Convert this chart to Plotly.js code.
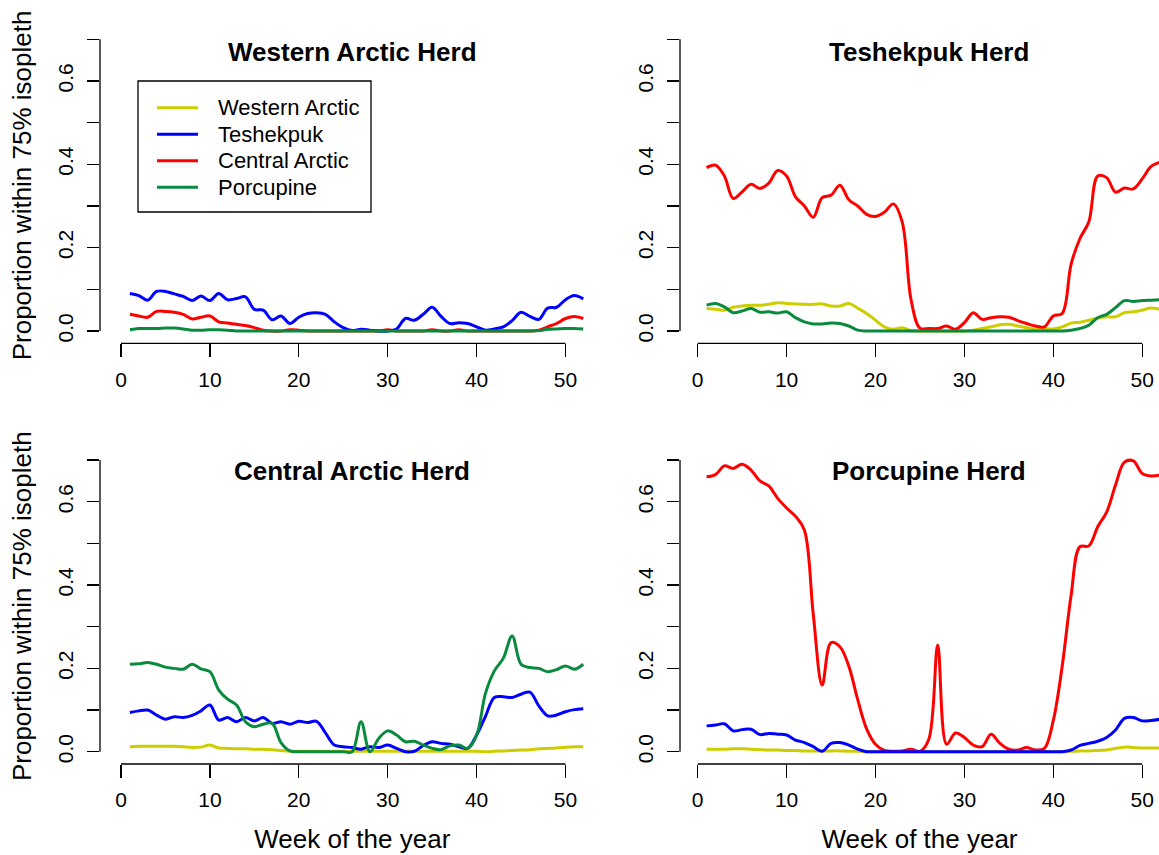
<!DOCTYPE html>
<html>
<head>
<meta charset="utf-8">
<script src="https://cdn.plot.ly/plotly-3.0.1.min.js"></script>
<style>html,body{margin:0;padding:0;background:#fff}#chart{width:1159px;height:855px}</style>
</head>
<body>
<div id="chart"></div>
<script>
// ---------- data ----------
const weeks = [1,2,3,4,5,6,7,8,9,10,11,12,13,14,15,16,17,18,19,20,21,22,23,24,25,26,27,28,29,30,31,32,33,34,35,36,37,38,39,40,41,42,43,44,45,46,47,48,49,50,51,52];
const herdNames = ['Western Arctic', 'Teshekpuk', 'Central Arctic', 'Porcupine'];
const panelTitles = ['Western Arctic Herd', 'Teshekpuk Herd', 'Central Arctic Herd', 'Porcupine Herd'];
const xTickVals = [0, 10, 20, 30, 40, 50];
const yTickVals = [0, 0.1, 0.2, 0.3, 0.4, 0.5, 0.6, 0.7];
const yTickText = ['0.0', '', '0.2', '', '0.4', '', '0.6', ''];
const yLabel = 'Proportion within 75% isopleth';
const xLabel = 'Week of the year';

// Western Arctic Herd panel
const waTeshekpuk = [0.090,0.085,0.074,0.095,0.095,0.089,0.083,0.073,0.084,0.073, 0.090,0.075,0.078,0.082,0.052,0.050,0.027,0.036,0.018,0.033, 0.042,0.044,0.040,0.022,0.008,0.001,0.004,0.002,0,0, 0.005,0.030,0.026,0.040,0.057,0.035,0.018,0.020,0.018,0.010, 0.002,0.005,0.010,0.025,0.045,0.035,0.028,0.055,0.057,0.075, 0.085,0.077];
const waCentral = [0.040,0.036,0.033,0.047,0.047,0.045,0.040,0.029,0.033,0.036, 0.022,0.019,0.016,0.013,0.008,0.002,0,0,0.003,0.002, 0,0,0,0,0,0,0,0,0,0.003, 0,0,0,0,0.003,0,0,0.003,0,0, 0,0,0,0,0,0,0.002,0.010,0.018,0.030, 0.035,0.030];
const waPorcupine = [0.003,0.006,0.006,0.006,0.007,0.007,0.005,0.002,0.002,0.003, 0.003,0.002,0,0,0,0,0,0,0,0, 0,0,0,0,0,0,0,0,0,0, 0,0,0,0,0,0,0,0,0,0, 0,0,0,0,0,0,0.001,0.004,0.005,0.006, 0.006,0.005];

// Teshekpuk Herd panel
const tpWestern = [0.054,0.052,0.050,0.057,0.060,0.062,0.062,0.064,0.068,0.066, 0.065,0.064,0.064,0.065,0.060,0.060,0.066,0.055,0.042,0.026, 0.010,0.004,0.008,0.001,0,0,0,0,0,0, 0.002,0.006,0.010,0.015,0.016,0.012,0.008,0.005,0.005,0.005, 0.010,0.019,0.021,0.026,0.031,0.034,0.034,0.044,0.046,0.050, 0.055,0.052];
const tpCentral = [0.392,0.398,0.372,0.318,0.334,0.352,0.342,0.355,0.385,0.372, 0.322,0.300,0.273,0.320,0.326,0.350,0.315,0.300,0.280,0.275, 0.285,0.305,0.262,0.075,0.007,0.006,0.006,0.012,0.004,0.020, 0.044,0.028,0.032,0.034,0.033,0.025,0.018,0.012,0.010,0.036, 0.042,0.160,0.222,0.262,0.372,0.368,0.333,0.343,0.341,0.365, 0.395,0.405];
const tpPorcupine = [0.062,0.066,0.058,0.044,0.048,0.054,0.045,0.046,0.043,0.046, 0.032,0.022,0.017,0.017,0.019,0.018,0.012,0.002,0,0, 0,0,0,0,0,0,0,0,0,0, 0,0,0,0,0,0,0,0,0,0, 0,0.002,0.006,0.014,0.032,0.040,0.056,0.073,0.071,0.073, 0.074,0.075];

// Central Arctic Herd panel
const caWestern = [0.012,0.013,0.013,0.013,0.013,0.013,0.012,0.010,0.011,0.016, 0.009,0.008,0.007,0.007,0.006,0.006,0.005,0.003,0.001,0.001, 0.001,0.001,0.001,0.001,0.001,0.001,0.001,0.001,0.001,0.001, 0.001,0.001,0.001,0.001,0.001,0.001,0.001,0.001,0.001,0.001, 0,0.001,0.002,0.003,0.004,0.005,0.007,0.008,0.009,0.011, 0.012,0.012];
const caTeshekpuk = [0.094,0.098,0.100,0.088,0.078,0.084,0.082,0.087,0.098,0.112, 0.076,0.082,0.072,0.082,0.074,0.082,0.068,0.072,0.066,0.073, 0.070,0.073,0.045,0.016,0.012,0.010,0.006,0.012,0.010,0.016, 0.008,0,0.001,0.015,0.024,0.020,0.018,0.012,0.008,0.040, 0.085,0.130,0.132,0.130,0.138,0.143,0.110,0.086,0.088,0.096, 0.101,0.103];
const caPorcupine = [0.210,0.211,0.214,0.210,0.203,0.200,0.198,0.210,0.199,0.192, 0.148,0.126,0.112,0.072,0.060,0.066,0.068,0.022,0.002,0, 0,0,0,0,0,0,0.072,0,0.032,0.050, 0.040,0.024,0.025,0.016,0.008,0.005,0.014,0.016,0.008,0.039, 0.140,0.194,0.224,0.278,0.210,0.202,0.200,0.192,0.197,0.206, 0.198,0.210];

// Porcupine Herd panel
const pcWestern = [0.006,0.006,0.006,0.007,0.007,0.006,0.005,0.004,0.004,0.003, 0.003,0.002,0.002,0.002,0.002,0.002,0.001,0.001,0,0, 0,0,0,0,0,0,0,0,0,0, 0,0,0,0,0,0,0,0,0,0, 0,0.001,0.002,0.002,0.003,0.004,0.008,0.011,0.010,0.009, 0.009,0.009];
const pcTeshekpuk = [0.062,0.064,0.067,0.050,0.053,0.054,0.041,0.044,0.042,0.040, 0.028,0.022,0.012,0.001,0.020,0.022,0.016,0.006,0,0, 0,0,0,0,0,0,0,0,0,0, 0,0,0,0,0,0,0,0,0,0, 0,0.004,0.015,0.020,0.025,0.034,0.052,0.080,0.082,0.074, 0.075,0.078];
const pcCentral = [0.660,0.665,0.686,0.680,0.690,0.676,0.650,0.638,0.608,0.585, 0.565,0.532,0.330,0.160,0.262,0.252,0.205,0.125,0.055,0.018, 0.003,0.001,0.002,0.006,0.001,0.030,0.256,0.018,0.045,0.034, 0.016,0.012,0.042,0.020,0.006,0.004,0.010,0.004,0.008,0.075, 0.205,0.375,0.492,0.494,0.540,0.575,0.640,0.695,0.698,0.668, 0.662,0.664];

// ---------- styling ----------
const herdColors = ['#CDCD00', '#0000FF', '#FF0000', '#0A8A3E'];
const FONT = 'Liberation Sans, Arial, Helvetica, sans-serif';
const W = 1159, H = 855;
const fx = p => p / W;
const fy = p => 1 - p / H;

// panels: [herdIndex, values] in drawing order
const panels = [
  [[2, waCentral], [1, waTeshekpuk], [3, waPorcupine]],
  [[0, tpWestern], [2, tpCentral], [3, tpPorcupine]],
  [[0, caWestern], [1, caTeshekpuk], [3, caPorcupine]],
  [[0, pcWestern], [2, pcCentral], [1, pcTeshekpuk]]
];
const axisIds = [['x', 'y'], ['x2', 'y2'], ['x3', 'y3'], ['x4', 'y4']];

const traces = [];
panels.forEach((series, i) => {
  series.forEach(([h, vals]) => {
    traces.push({
      type: 'scatter', mode: 'lines', x: weeks, y: vals,
      xaxis: axisIds[i][0], yaxis: axisIds[i][1],
      name: herdNames[h], showlegend: false, hoverinfo: 'skip',
      line: {color: herdColors[h], width: 3, shape: 'spline', smoothing: 1}
    });
  });
});

const tickFont = {family: FONT, size: 21, color: '#000'};
const titleFont = {family: FONT, size: 26, color: '#000'};

function xAxis(domain, range, anchor, withTitle) {
  const a = {
    domain: domain, range: range, anchor: anchor, tickmode: 'array', tickvals: xTickVals,
    ticks: 'outside', ticklen: 13, tickwidth: 1.3, tickcolor: '#000',
    showgrid: false, zeroline: false, showline: false, tickfont: tickFont,
    ticklabelstandoff: 4, fixedrange: true
  };
  if (withTitle) a.title = {text: xLabel, font: titleFont, standoff: 19};
  return a;
}
function yAxis(domain, anchor, withTitle) {
  const a = {
    domain: domain, range: [-0.0295, 0.728], anchor: anchor, tickmode: 'array',
    tickvals: yTickVals, ticktext: yTickText, tickangle: -90,
    ticks: 'outside', ticklen: 12, tickwidth: 1.3, tickcolor: '#000',
    showgrid: false, zeroline: false, showline: false, tickfont: tickFont,
    ticklabelstandoff: 6, fixedrange: true
  };
  if (withTitle) a.title = {text: yLabel, font: titleFont, standoff: 14};
  return a;
}

const leftX = [fx(100), fx(604.6)], rightX = [fx(680), 1];
const leftRange = [-2.36, 54.4], rightRange = [-1.99, 51.89];
const topY = [fy(343.3), fy(27.6)], botY = [fy(764), fy(448.4)];

// R-style axis lines (from first to last tick)
const shapes = [];
axisIds.forEach(([xa, ya]) => {
  shapes.push({type: 'line', xref: xa, yref: ya + ' domain', x0: xTickVals[0], x1: xTickVals[xTickVals.length - 1], y0: 0, y1: 0, line: {color: '#000', width: 1.3}});
  shapes.push({type: 'line', xref: xa + ' domain', yref: ya, x0: 0, x1: 0, y0: yTickVals[0], y1: yTickVals[yTickVals.length - 1], line: {color: '#000', width: 1.3}});
});

// legend box (top-left panel)
const legBox = {x0: 138, x1: 371, y0: 81, y1: 212};
shapes.push({type: 'rect', xref: 'paper', yref: 'paper', x0: fx(legBox.x0), x1: fx(legBox.x1), y0: fy(legBox.y1), y1: fy(legBox.y0), line: {color: '#000', width: 1.3}, fillcolor: 'rgba(0,0,0,0)'});
const annotations = [];
herdNames.forEach((n, k) => {
  const yy = 107.7 + k * 26.5;
  shapes.push({type: 'line', xref: 'paper', yref: 'paper', x0: fx(157), x1: fx(198), y0: fy(yy), y1: fy(yy), line: {color: herdColors[k], width: 3}});
  annotations.push({xref: 'paper', yref: 'paper', x: fx(216), y: fy(yy), xanchor: 'left', yanchor: 'middle', text: n, showarrow: false, font: {family: FONT, size: 22, color: '#000'}});
});

// panel titles
const titlePos = [[352, 52], [929, 52], [352, 471], [929, 471]];
panelTitles.forEach((t, i) => {
  annotations.push({xref: 'paper', yref: 'paper', x: fx(titlePos[i][0]), y: fy(titlePos[i][1]), xanchor: 'center', yanchor: 'middle', text: '<b>' + t + '</b>', showarrow: false, font: {family: FONT, size: 26, color: '#000'}});
});

const layout = {
  width: W, height: H, margin: {l: 0, r: 0, t: 0, b: 0},
  paper_bgcolor: '#fff', plot_bgcolor: '#fff', showlegend: false,
  font: {family: FONT, color: '#000'},
  xaxis: xAxis(leftX, leftRange, 'y', false),
  xaxis2: xAxis(rightX, rightRange, 'y2', false),
  xaxis3: xAxis(leftX, leftRange, 'y3', true),
  xaxis4: xAxis(rightX, rightRange, 'y4', true),
  yaxis: yAxis(topY, 'x', true),
  yaxis2: yAxis(topY, 'x2', false),
  yaxis3: yAxis(botY, 'x3', true),
  yaxis4: yAxis(botY, 'x4', false),
  shapes: shapes, annotations: annotations
};

Plotly.newPlot('chart', traces, layout, {staticPlot: true, displayModeBar: false});
</script>
</body>
</html>
